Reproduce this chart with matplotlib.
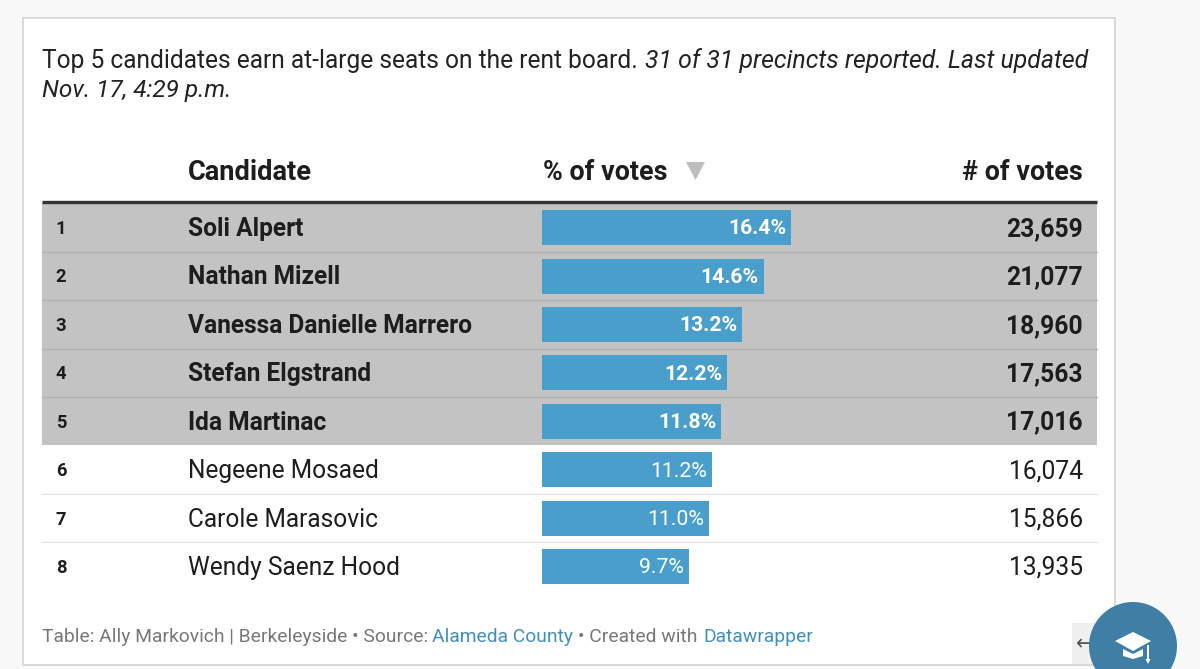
import matplotlib
matplotlib.use("Agg")
import matplotlib.pyplot as plt
from matplotlib.patches import Rectangle, Circle, Polygon

plt.rcParams['font.family'] = ['Roboto', 'DejaVu Sans']

ranks = [1, 2, 3, 4, 5, 6, 7, 8]
candidates = ["Soli Alpert", "Nathan Mizell", "Vanessa Danielle Marrero", "Stefan Elgstrand",
              "Ida Martinac", "Negeene Mosaed", "Carole Marasovic", "Wendy Saenz Hood"]
pct_votes = [16.4, 14.6, 13.2, 12.2, 11.8, 11.2, 11.0, 9.7]
num_votes = [23659, 21077, 18960, 17563, 17016, 16074, 15866, 13935]
winners = 5

W, H = 1200, 669
fig = plt.figure(figsize=(W / 100, H / 100), dpi=100, facecolor="#f8f8f8")

ax = fig.add_axes([0, 0, 1, 1])
ax.set_xlim(0, W)
ax.set_ylim(H, 0)
ax.axis("off")

TOP, PITCH = 227.6, 48.42
TXT = 1.4
ink = "#1d1d1d"

# card
ax.add_patch(Rectangle((23, 17.5), 1092, 647.5, fc="white", ec="#d9d9d9", lw=1.4, zorder=1))

# intro
ax.text(42, 61, "Top 5 candidates earn at-large seats on the rent board.", fontsize=17.65,
        color="#222222", va="center", ha="left", zorder=3)
ax.text(645, 61, "31 of 31 precincts reported. Last updated", fontsize=17.9, style="italic",
        color="#222222", va="center", ha="left", zorder=3)
ax.text(42, 91, "Nov. 17, 4:29 p.m.", fontsize=17.6, style="italic",
        color="#222222", va="center", ha="left", zorder=3)

# header
ax.text(188, 172, "Candidate", fontsize=19.6, weight="bold", color=ink, va="center", zorder=3)
ax.text(543, 172, "% of votes", fontsize=19.4, weight="bold", color=ink, va="center", zorder=3)
ax.text(1083, 172, "# of votes", fontsize=19.4, weight="bold", color=ink, va="center", ha="right", zorder=3)
ax.add_patch(Polygon([[686, 162], [705, 162], [695.5, 180]], fc="#bdbdbd", ec="none", zorder=3))

# winner band
band_top = TOP - PITCH / 2
band_bot = TOP + PITCH * (winners - 0.5)
ax.add_patch(Rectangle((42, band_top), 1055, band_bot - band_top, fc="#c3c3c3", ec="none", zorder=2))
ax.plot([42, 1097], [202, 202], color="#333333", lw=2.4, zorder=4, solid_capstyle="butt")

# rows
for i, (r, c, v) in enumerate(zip(ranks, candidates, num_votes)):
    y = TOP + PITCH * i
    w = "bold" if i < winners else "normal"
    ax.text(61, y + TXT, str(r), fontsize=13.2, weight="bold", color=ink, ha="center", va="center", zorder=3)
    ax.text(188, y + TXT, c, fontsize=17.65, weight=w, color=ink, va="center", zorder=3)
    ax.text(1083, y + TXT, f"{v:,}", fontsize=17.7, weight=w, color=ink, ha="right", va="center", zorder=3)
    if i < len(ranks) - 1 and i != winners - 1:
        yy = y + PITCH / 2
        col = "#b0b0b0" if i < winners - 1 else "#e4e4e4"
        ax.plot([42, 1097], [yy, yy], color=col, lw=0.9, zorder=3)

# bars
left, right = 542, 791
bottom_px, top_px = TOP + PITCH * 7.5, TOP - PITCH / 2
bax = fig.add_axes([left / W, 1 - bottom_px / H, (right - left) / W, (bottom_px - top_px) / H])
bax.set_xlim(0, max(pct_votes))
bax.set_ylim(len(ranks) - 0.5, -0.5)
bax.axis("off")
bax.patch.set_alpha(0)
ypos = list(range(len(pct_votes)))
bax.barh(ypos, pct_votes, height=35 / PITCH, color="#4a9ecb", edgecolor="none")
for i, p in enumerate(pct_votes):
    bax.annotate(f"{p:.1f}%", (p, i), xytext=(-3.6, -1), textcoords="offset points",
                 ha="right", va="center", fontsize=15.3, color="white",
                 weight="bold" if i < winners else "normal")

# source footer
parts = [("Table: Ally Markovich | Berkeleyside • Source:", "#777777", 42),
         ("Alameda County", "#3f90bf", 432),
         ("• Created with", "#777777", 578),
         ("Datawrapper", "#3f90bf", 703)]
for s, col, x in parts:
    ax.text(x, 637, s, fontsize=13.9, color=col, va="center", ha="left", zorder=3)

# overlay widget
ov = fig.add_axes([0, 0, 1, 1])
ov.set_xlim(0, W)
ov.set_ylim(H, 0)
ov.axis("off")
ov.patch.set_alpha(0)
ov.add_patch(Rectangle((1072, 623), 40, 41, fc="#f0f0f0", ec="none", zorder=1))
ov.text(1085, 644, "←", fontsize=15, color="#555555", ha="center", va="center", zorder=2,
        family=["DejaVu Sans"])
ov.add_patch(Circle((1133, 646), 44, fc="#3f7fa6", ec="none", zorder=3))
ov.add_patch(Polygon([[1115, 641], [1133, 632], [1151, 641], [1133, 651]], fc="white", ec="none", zorder=4))
ov.add_patch(Polygon([[1123, 649], [1133, 654], [1143, 649], [1143, 656], [1133, 659], [1123, 656]],
                     fc="white", ec="none", zorder=4))
ov.add_patch(Rectangle((1147, 645), 1.8, 15, fc="white", ec="none", zorder=4))
ov.add_patch(Polygon([[1145.5, 659], [1150.5, 659], [1148, 664]], fc="white", ec="none", zorder=4))

fig.savefig("out.png", dpi=100, facecolor=fig.get_facecolor())
